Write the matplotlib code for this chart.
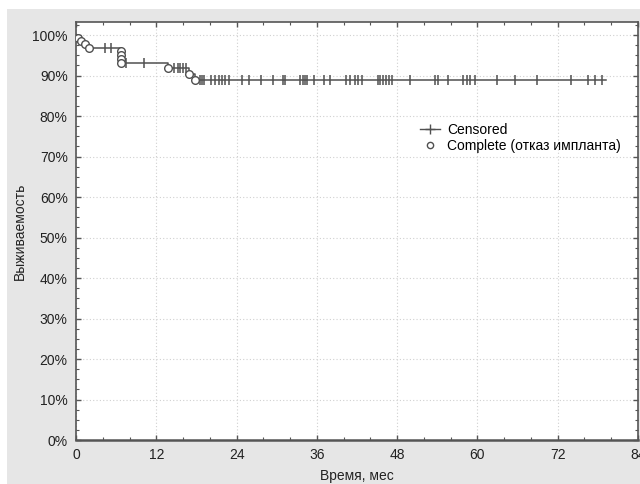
import matplotlib

matplotlib.use("Agg")

import matplotlib.pyplot as plt
import numpy as np
from matplotlib.patches import Rectangle
from matplotlib.ticker import FuncFormatter, MultipleLocator

plt.rcParams["font.family"] = ["Liberation Sans", "DejaVu Sans"]

# complete cases (implant failure): time, survival after the event (%)
event_times = [0.3, 0.8, 1.3, 1.9, 6.8, 6.8, 6.8, 6.8, 13.8, 16.9, 17.8]
event_surv = [99.3, 98.5, 97.7, 96.9, 96.0, 95.0, 94.1, 93.1, 91.9, 90.4, 89.0]

# censored cases, months
censored_times = [
    4.4, 5.3, 7.5, 10.2, 14.7, 15.2, 15.6, 16.0, 16.4,
    18.5, 18.9, 19.2, 20.2, 20.8, 21.4, 21.8, 22.2, 22.8, 24.8, 25.8,
    27.6, 29.5, 30.9, 31.3, 33.5, 33.9, 34.2, 34.6, 35.6, 37.1, 37.9,
    40.4, 40.9, 41.7, 42.2, 42.8, 45.1, 45.5, 45.9, 46.3, 46.8, 47.2,
    49.9, 53.6, 54.1, 55.6, 57.9, 58.4, 58.9, 59.6, 62.9, 65.6, 68.9,
    74.0, 76.6, 77.6, 78.6,
]
last_followup = 79.2

x_ticks = [0, 12, 24, 36, 48, 60, 72, 84]
y_ticks = [0, 10, 20, 30, 40, 50, 60, 70, 80, 90, 100]

line_color = "#505050"

fig = plt.figure(figsize=(6.4, 4.84), dpi=100, facecolor="white")
# gray panel behind everything, white margin strips on top and left
fig.patches.append(
    Rectangle((7 / 640, 0), 1, 1 - 9 / 484, transform=fig.transFigure,
              facecolor="#e6e6e6", edgecolor="none", zorder=-10)
)
ax = fig.add_axes([76 / 640, 1 - 440 / 484, 562 / 640, (440 - 21.7) / 484])
ax.set_facecolor("white")

# step curve
step_x = np.concatenate([[0.0], event_times, [last_followup]])
step_y = np.concatenate([[100.0], event_surv, [event_surv[-1]]])
ax.step(step_x, step_y, where="post", color=line_color, lw=1.1, zorder=3)


def surv_at(t):
    s = 100.0
    for et, es in zip(event_times, event_surv):
        if et <= t:
            s = es
    return s


cens_y = [surv_at(t) for t in censored_times]
ax.plot(censored_times, cens_y, linestyle="none", marker="|", markersize=7,
        mew=1.1, color=line_color, zorder=4)
ax.plot(event_times, event_surv, linestyle="none", marker="o", markersize=5.5,
        mfc="white", mec=line_color, mew=1.0, zorder=5)

# legend handles
h_cens, = ax.plot([], [], color=line_color, marker="+", markersize=7, mew=1.0, lw=1.0)
h_comp, = ax.plot([], [], linestyle="none", marker="o", markersize=4.5, mfc="white",
                  mec=line_color, mew=1.0)
ax.legend([h_cens, h_comp], ["Censored", "Complete (отказ импланта)"],
          loc="upper left", bbox_to_anchor=(0.612, 0.758),
          frameon=False, fontsize=10, handlelength=1.45, handletextpad=0.5,
          labelspacing=0.12, borderpad=0, borderaxespad=0)

ax.set_xlim(0, 84)
ax.set_ylim(0, 103.3)
ax.set_xticks(x_ticks)
ax.set_yticks(y_ticks)
ax.xaxis.set_minor_locator(MultipleLocator(4))
ax.yaxis.set_minor_locator(MultipleLocator(2.5))
ax.yaxis.set_major_formatter(FuncFormatter(lambda v, _: f"{v:.0f}%"))
ax.tick_params(which="both", direction="in", top=True, right=True,
               colors="#555555", labelcolor="#222222", labelsize=10)
ax.tick_params(which="major", length=3.5, width=1.0, pad=6)
ax.tick_params(which="minor", length=2.2, width=0.8)
ax.grid(True, which="major", linestyle=(0, (1, 2)), color="#d0d0d0", lw=0.8)
ax.set_axisbelow(True)
for side in ax.spines:
    ax.spines[side].set_color("#555555")
    ax.spines[side].set_linewidth(1.2)
ax.spines["bottom"].set_linewidth(1.8)

ax.set_xlabel("Время, мес", fontsize=10, color="#222222", labelpad=5)
ax.set_ylabel("Выживаемость", fontsize=10, color="#222222", labelpad=4)

fig.savefig("out.png", dpi=100, facecolor=fig.get_facecolor())
plt.close(fig)
